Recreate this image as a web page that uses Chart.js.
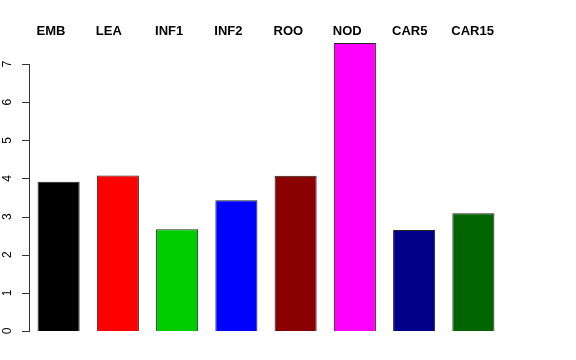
<!DOCTYPE html>
<html>
<head>
<meta charset="utf-8">
<script src="https://cdn.jsdelivr.net/npm/chart.js@4/dist/chart.umd.min.js"></script>
<style>
  html, body { margin: 0; padding: 0; background: #fff; }
  canvas { display: block; }
</style>
</head>
<body>
<canvas id="grafico" width="576" height="360"></canvas>
<script>
var categorias = ['EMB', 'LEA', 'INF1', 'INF2', 'ROO', 'NOD', 'CAR5', 'CAR15']
var valores = [3.91, 4.08, 2.67, 3.43, 4.07, 7.55, 2.65, 3.09]
var cores = ['#000000', '#FF0000', '#00CD00', '#0000FF', '#8B0000', '#FF00FF', '#00008B', '#006400']
var ticksY = [0, 1, 2, 3, 4, 5, 6, 7]

// eixo y no estilo do R: linha so entre 0 e 7, numeros girados
var eixoR = {
    id: 'eixoR',
    afterDraw: function(chart) {
        var ctx = chart.ctx
        var y = chart.scales.y
        var x0 = chart.chartArea.left
        ctx.save()
        ctx.strokeStyle = '#333'
        ctx.lineWidth = 1
        ctx.beginPath()
        ctx.moveTo(x0 + 0.5, Math.round(y.getPixelForValue(ticksY[0])) + 0.5)
        ctx.lineTo(x0 + 0.5, Math.round(y.getPixelForValue(ticksY[ticksY.length - 1])) + 0.5)
        ticksY.forEach(function(v) {
            var py = Math.round(y.getPixelForValue(v)) + 0.5
            ctx.moveTo(x0 - 7, py)
            ctx.lineTo(x0 + 1, py)
        })
        ctx.stroke()
        ctx.fillStyle = '#000'
        ctx.font = '12px "Liberation Sans", Arial, sans-serif'
        ctx.textAlign = 'center'
        ctx.textBaseline = 'middle'
        ticksY.forEach(function(v) {
            ctx.save()
            ctx.translate(8, y.getPixelForValue(v))
            ctx.rotate(-Math.PI / 2)
            ctx.fillText(String(v), 0, 0)
            ctx.restore()
        })
        // nomes em cima, alinhados na borda esquerda da barra
        var meta = chart.getDatasetMeta(0)
        ctx.font = 'bold 13px "Liberation Sans", Arial, sans-serif'
        ctx.textAlign = 'left'
        meta.data.forEach(function(bar, i) {
            ctx.fillText(categorias[i], bar.x - bar.width / 2 - 1, 31)
        })
        ctx.restore()
    }
}

var ctx = document.getElementById('grafico').getContext('2d')
var grafico = new Chart(ctx, {
    type: 'bar',
    data: {
        labels: categorias,
        datasets: [{
            data: valores,
            backgroundColor: cores,
            borderColor: '#222',
            borderWidth: 1,
            barPercentage: 0.71,
            categoryPercentage: 1
        }]
    },
    options: {
        responsive: false,
        animation: false,
        layout: {
            padding: { left: 29, right: 73, top: 33.5, bottom: 29 }
        },
        scales: {
            x: { display: false },
            y: { display: false, min: 0, max: 7.8 }
        },
        plugins: {
            legend: { display: false },
            tooltip: { enabled: false }
        }
    },
    plugins: [eixoR]
})
</script>
</body>
</html>
